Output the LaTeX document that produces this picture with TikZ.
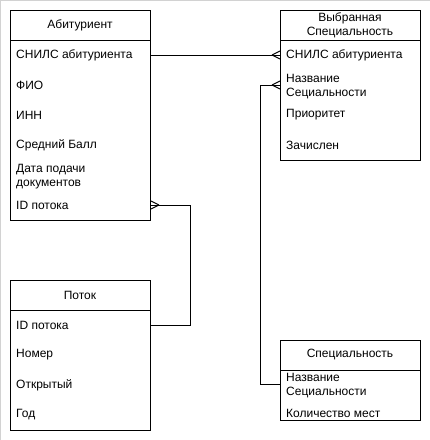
\documentclass[tikz,border=0pt]{standalone}
\usepackage{fontspec}
\setmainfont{Liberation Sans}
\begin{document}
\begin{tikzpicture}[x=1pt,y=-1pt,
  font=\fontsize{12}{14}\selectfont,
  ent/.style={draw, line width=1pt, minimum width=140pt, anchor=north west, inner sep=0pt},
  ttl/.style={inner sep=0pt, align=center},
  row/.style={anchor=west, inner sep=0pt, align=left},
  conn/.style={line width=1pt},
  crow/.pic={\draw[line width=1pt] (-8,0) -- (0,-4) (-8,0) -- (0,4);}
]
\useasboundingbox (0,0) rectangle (430,440);
\draw[line width=1.5pt, gray!35] (0,440) -- (0,0.5) -- (430,0.5);

% Абитуриент
\node[ent, minimum height=210pt] (abit) at (10,10) {};
\draw[line width=1pt] (abit.west |- 0,40) -- (abit.east |- 0,40);
\node[ttl] (abitT) at (80,25) {Абитуриент};
\node[row] (a1) at (16,55) {СНИЛС абитуриента};
\node[row] (a2) at (16,85) {ФИО};
\node[row] (a3) at (16,115) {ИНН};
\node[row] (a4) at (16,145) {Средний Балл};
\node[row] (a5) at (16,177) {Дата подачи\\документов};
\node[row] (a6) at (16,205) {ID потока};

% Выбранная Специальность
\node[ent, minimum height=150pt] (vyb) at (280,10) {};
\draw[line width=1pt] (vyb.west |- 0,40) -- (vyb.east |- 0,40);
\node[ttl] (vybT) at (350,25) {Выбранная\\Специальность};
\node[row] (v1) at (286,55) {СНИЛС абитуриента};
\node[row] (v2) at (286,87) {Название\\Сециальности};
\node[row] (v3) at (286,115) {Приоритет};
\node[row] (v4) at (286,145) {Зачислен};

% Поток
\node[ent, minimum height=150pt] (potok) at (10,280) {};
\draw[line width=1pt] (potok.west |- 0,310) -- (potok.east |- 0,310);
\node[ttl] (potokT) at (80,295) {Поток};
\node[row] (p1) at (16,325) {ID потока};
\node[row] (p2) at (16,355) {Номер};
\node[row] (p3) at (16,385) {Открытый};
\node[row] (p4) at (16,415) {Год};

% Специальность
\node[ent, minimum height=80pt] (spec) at (280,340) {};
\draw[line width=1pt] (spec.west |- 0,370) -- (spec.east |- 0,370);
\node[ttl] (specT) at (350,355) {Специальность};
\node[row] (s1) at (286,386) {Название\\Сециальности};
\node[row] (s2) at (286,413) {Количество мест};

% Connectors
\coordinate (c1) at (vyb.west |- a1);
\draw[conn] (abit.east |- a1) -- (c1);
\pic at (c1) {crow};

\coordinate (c2) at (vyb.west |- 0,85);
\draw[conn] (spec.west |- 0,384) -- (260,384) -- (260,85) -- (c2);
\pic at (c2) {crow};

\coordinate (c3) at (abit.east |- a6);
\draw[conn] (potok.east |- p1) -- (190,325) -- (190,205) -- (c3);
\pic[rotate=180] at (c3) {crow};
\end{tikzpicture}
\end{document}
